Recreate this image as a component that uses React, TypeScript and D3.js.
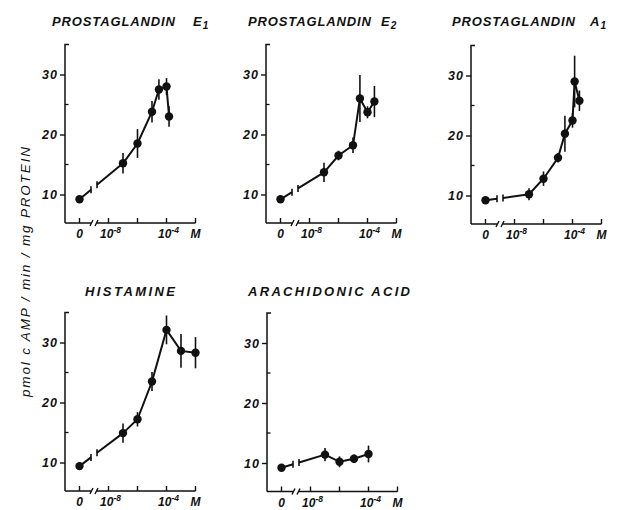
import * as d3 from 'd3'
import { useEffect, useRef } from 'react'

// concentrations (M), means and half-error bars
const pge1Control = 9.2
const pge1Conc = [1e-7, 1e-6, 1e-5, 3e-5, 1e-4, 1.5e-4]
const pge1Mean = [15.2, 18.5, 23.8, 27.5, 28.0, 23.0]
const pge1Err = [1.7, 2.4, 1.8, 1.7, 1.4, 1.7]

const pge2Control = 9.2
const pge2Conc = [1e-7, 1e-6, 1e-5, 3e-5, 1e-4, 3e-4]
const pge2Mean = [13.7, 16.5, 18.2, 26.0, 23.7, 25.5]
const pge2Err = [1.6, 0.8, 1.3, 3.9, 1.0, 2.6]

const pga1Control = 9.2
const pga1Conc = [1e-7, 1e-6, 1e-5, 3e-5, 1e-4, 1.4e-4, 3e-4]
const pga1Mean = [10.2, 12.8, 16.3, 20.3, 22.5, 29.0, 25.8]
const pga1Err = [1.0, 1.2, 0.8, 3.0, 1.2, 4.3, 1.7]

const histControl = 9.4
const histConc = [1e-7, 1e-6, 1e-5, 1e-4, 1e-3, 1e-2]
const histMean = [14.9, 17.2, 23.5, 32.1, 28.6, 28.3]
const histErr = [1.6, 1.2, 1.6, 2.4, 2.8, 2.6]

const araControl = 9.2
const araConc = [1e-7, 1e-6, 1e-5, 1e-4]
const araMean = [11.4, 10.2, 10.7, 11.5]
const araErr = [1.1, 0.9, 0.7, 1.4]

const yTicks = [10, 20, 30]
const yMinorTicks = [15, 25]

interface Panel {
  title: string
  sub: string
  control: number
  conc: number[]
  mean: number[]
  err: number[]
}

const panels: Panel[] = [
  { title: 'PROSTAGLANDIN', sub: 'E|1', control: pge1Control, conc: pge1Conc, mean: pge1Mean, err: pge1Err },
  { title: 'PROSTAGLANDIN', sub: 'E|2', control: pge2Control, conc: pge2Conc, mean: pge2Mean, err: pge2Err },
  { title: 'PROSTAGLANDIN', sub: 'A|1', control: pga1Control, conc: pga1Conc, mean: pga1Mean, err: pga1Err },
  { title: 'HISTAMINE', sub: '', control: histControl, conc: histConc, mean: histMean, err: histErr },
  { title: 'ARACHIDONIC ACID', sub: '', control: araControl, conc: araConc, mean: araMean, err: araErr },
]

// where each small plot sits on the page
const layout = [
  { axisX: 65, y10: 194.5, titleX: 52, titleY: 26, titleLen: 123, letterX: 193 },
  { axisX: 266, y10: 194.5, titleX: 248, titleY: 26, titleLen: 123, letterX: 381 },
  { axisX: 471, y10: 195.5, titleX: 452, titleY: 26, titleLen: 123, letterX: 590 },
  { axisX: 65, y10: 462.5, titleX: 85, titleY: 296, titleLen: 90, letterX: 0 },
  { axisX: 267, y10: 463, titleX: 248, titleY: 296, titleLen: 162, letterX: 0 },
]

const FONT = '"Liberation Sans", Arial, sans-serif'

export default function App() {
  const svgRef = useRef<SVGSVGElement>(null)

  useEffect(() => {
    if (!svgRef.current) return
    const svg = d3.select(svgRef.current)
    svg.selectAll('*').remove()

    svg.append('rect').attr('width', 619).attr('height', 510).attr('fill', '#fff')

    panels.forEach((p, i) => {
      const L = layout[i]
      const g = svg.append('g')

      const y = d3.scaleLinear().domain([10, 30]).range([L.y10, L.y10 - 120])
      const x = d3
        .scaleLog()
        .domain([1e-8, 1e-2])
        .range([L.axisX + 43.5, L.axisX + 130.5])
      const controlX = L.axisX + 14.5
      const baseY = y(5.25)
      const topY = y(35)

      // title
      const t = g
        .append('text')
        .attr('font-family', FONT)
        .attr('font-style', 'italic')
        .attr('font-weight', 'bold')
        .attr('font-size', 13)
        .attr('fill', '#111')
      t.append('tspan')
        .attr('x', L.titleX)
        .attr('y', L.titleY)
        .attr('textLength', L.titleLen)
        .attr('lengthAdjust', 'spacing')
        .text(p.title)
      if (p.sub) {
        const [letter, num] = p.sub.split('|')
        t.append('tspan').attr('x', L.letterX).attr('y', L.titleY).text(letter)
        t.append('tspan')
          .attr('dx', 1)
          .attr('dy', 2.5)
          .attr('font-size', 10)
          .text(num)
      }

      // y axis
      const yAxis = g
        .append('g')
        .attr('transform', `translate(${L.axisX},0)`)
        .call(
          d3
            .axisLeft(y)
            .tickValues(yTicks)
            .tickSize(5)
            .tickPadding(2)
            .tickFormat(d3.format('d'))
        )
      yAxis.select('.domain').remove()
      yAxis
        .selectAll('line')
        .attr('stroke', '#111')
        .attr('stroke-width', 1.4)
      yAxis
        .selectAll('text')
        .attr('font-family', FONT)
        .attr('font-style', 'italic')
        .attr('font-weight', 'bold')
        .attr('font-size', 12.5)
        .attr('letter-spacing', 1)
        .attr('fill', '#111')

      g.selectAll('.minor')
        .data(yMinorTicks)
        .enter()
        .append('line')
        .attr('x1', L.axisX)
        .attr('x2', L.axisX + 3.5)
        .attr('y1', d => y(d))
        .attr('y2', d => y(d))
        .attr('stroke', '#111')
        .attr('stroke-width', 1.3)

      g.append('path')
        .attr('d', `M${L.axisX + 4},${topY}H${L.axisX}V${baseY}`)
        .attr('fill', 'none')
        .attr('stroke', '#111')
        .attr('stroke-width', 1.5)

      // x axis with break
      const endX = x(1e-2)
      g.append('path')
        .attr(
          'd',
          `M${L.axisX},${baseY}H${L.axisX + 26}M${L.axisX + 31},${baseY}H${endX}` +
            `M${L.axisX + 25},${baseY + 3}L${L.axisX + 28},${baseY - 3}` +
            `M${L.axisX + 30},${baseY + 3}L${L.axisX + 33},${baseY - 3}`
        )
        .attr('fill', 'none')
        .attr('stroke', '#111')
        .attr('stroke-width', 1.4)

      const xTickPos = [controlX, ...[1e-8, 1e-6, 1e-4, 1e-2].map(d => x(d))]
      g.selectAll('.xt')
        .data(xTickPos)
        .enter()
        .append('line')
        .attr('x1', d => d)
        .attr('x2', d => d)
        .attr('y1', baseY)
        .attr('y2', baseY - 5)
        .attr('stroke', '#111')
        .attr('stroke-width', 1.4)

      const labY = baseY + 15
      const lab = (xx: number, anchor: string) =>
        g
          .append('text')
          .attr('x', xx)
          .attr('y', labY)
          .attr('text-anchor', anchor)
          .attr('font-family', FONT)
          .attr('font-style', 'italic')
          .attr('font-weight', 'bold')
          .attr('font-size', 12)
          .attr('fill', '#111')
      lab(controlX, 'middle').text('0')
      const l8 = lab(x(1e-8) + 2, 'middle')
      l8.append('tspan').text('10')
      l8.append('tspan').attr('dy', -5).attr('font-size', 8.5).text('-8')
      const l4 = lab(x(1e-4) + 2, 'middle')
      l4.append('tspan').text('10')
      l4.append('tspan').attr('dy', -5).attr('font-size', 8.5).text('-4')
      lab(endX - 5, 'start').text('M')

      // data
      const pts = p.conc.map((c, k) => ({ x: x(c), y: y(p.mean[k]), c, k }))
      const cx = controlX
      const cy = y(p.control)
      const fx = pts[0].x
      const fy = pts[0].y
      const at = (xx: number) => cy + ((fy - cy) * (xx - cx)) / (fx - cx)
      const g1 = L.axisX + 26
      const g2 = L.axisX + 32

      g.append('path')
        .attr('d', `M${cx},${cy}L${g1},${at(g1)}M${g2},${at(g2)}L${fx},${fy}`)
        .attr('fill', 'none')
        .attr('stroke', '#111')
        .attr('stroke-width', 2)
      g.append('path')
        .attr(
          'd',
          `M${g1},${at(g1) - 3.5}V${at(g1) + 3.5}M${g2},${at(g2) - 3.5}V${at(g2) + 3.5}`
        )
        .attr('stroke', '#111')
        .attr('stroke-width', 1.6)

      const line = d3
        .line<{ x: number; y: number }>()
        .x(d => d.x)
        .y(d => d.y)
      g.append('path')
        .datum(pts)
        .attr('d', line)
        .attr('fill', 'none')
        .attr('stroke', '#111')
        .attr('stroke-width', 2)

      g.selectAll('.err')
        .data(pts)
        .enter()
        .append('line')
        .attr('x1', d => d.x)
        .attr('x2', d => d.x)
        .attr('y1', d => y(p.mean[d.k] - p.err[d.k]))
        .attr('y2', d => y(p.mean[d.k] + p.err[d.k]))
        .attr('stroke', '#111')
        .attr('stroke-width', 1.6)

      g.selectAll('.dot')
        .data([{ x: cx, y: cy }, ...pts])
        .enter()
        .append('circle')
        .attr('cx', d => d.x)
        .attr('cy', d => d.y)
        .attr('r', 4.2)
        .attr('fill', '#111')
    })

    // shared y label
    svg
      .append('text')
      .attr('transform', 'translate(30,272) rotate(-90)')
      .attr('text-anchor', 'middle')
      .attr('font-family', FONT)
      .attr('font-style', 'italic')
      .attr('font-size', 13.5)
      .attr('fill', '#111')
      .attr('textLength', 250)
      .attr('lengthAdjust', 'spacing')
      .text('pmol c AMP / min / mg PROTEIN')
  }, [])

  return (
    <svg
      ref={svgRef}
      width={619}
      height={510}
      style={{ position: 'absolute', left: 0, top: 0, background: '#fff' }}
    />
  )
}
